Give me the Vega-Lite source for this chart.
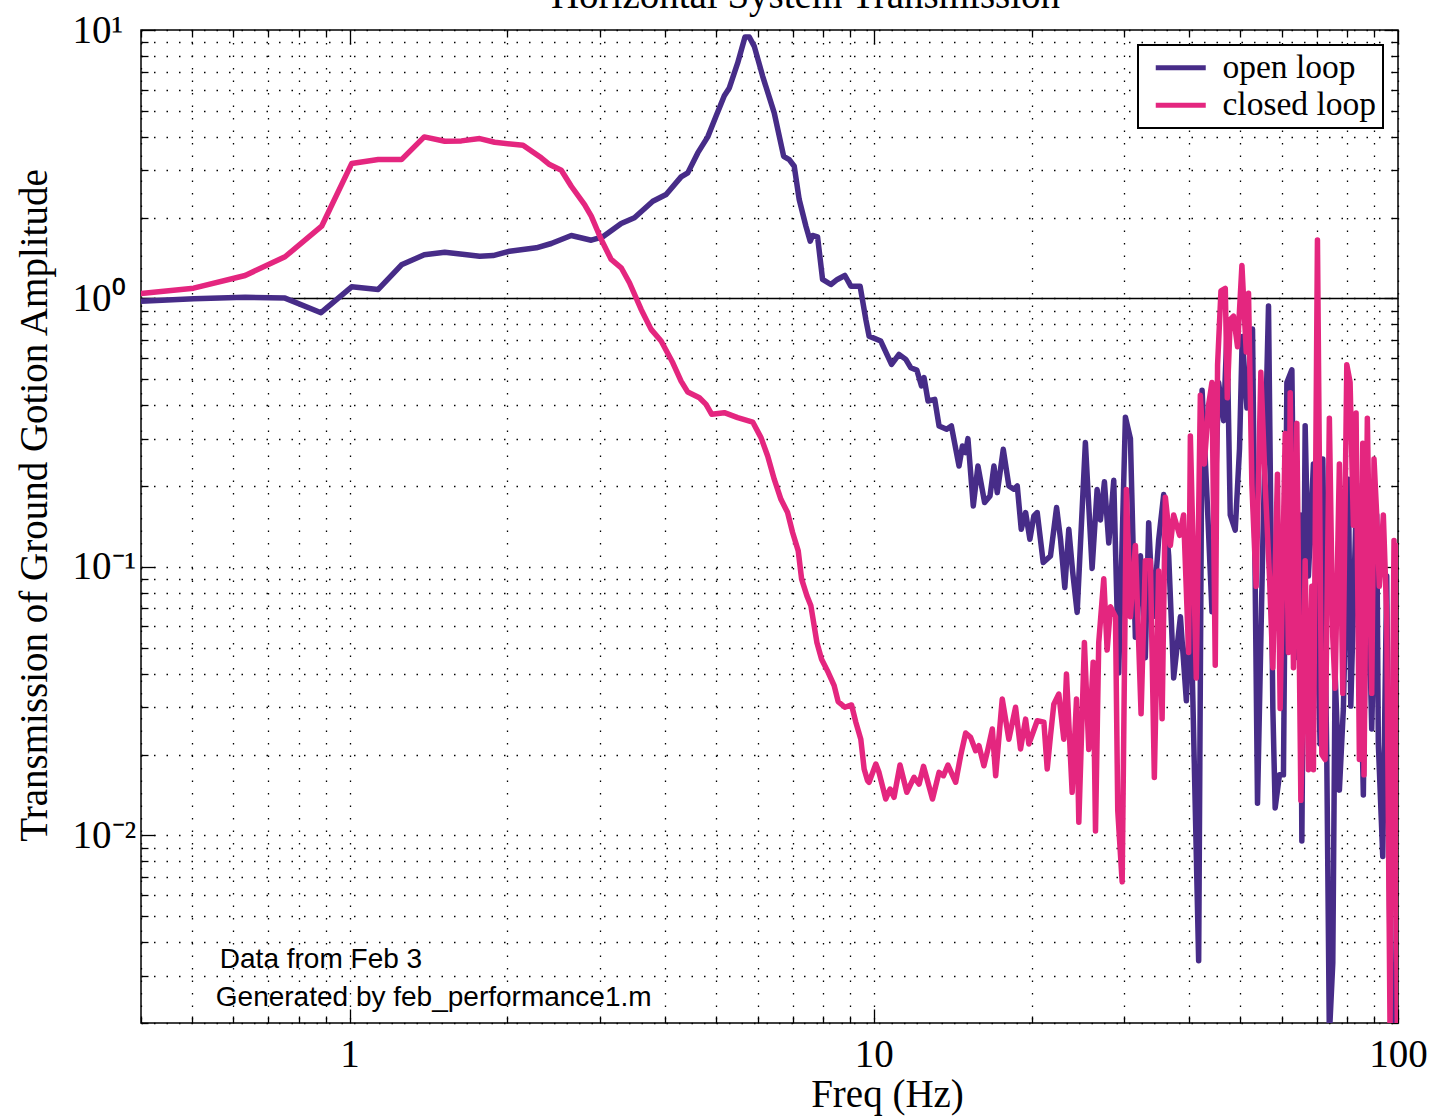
{
  "$schema": "https://vega.github.io/schema/vega-lite/v6.json",
  "width": 1257,
  "height": 993,
  "autosize": {"type": "none"},
  "padding": {"left": 141, "top": 30, "right": 37, "bottom": 95},
  "background": "white",
  "title": {"text": "Horizontal System Transmission", "font": "Liberation Serif", "fontSize": 39, "fontWeight": "normal", "color": "#000", "anchor": "middle", "dx": 36, "offset": -36, "baseline": "alphabetic"},
  "datasets": {
    "open": [
      {"f":0.4,"amp":0.977},{"f":0.504,"amp":0.997},{"f":0.632,"amp":1.011},{"f":0.753,"amp":1.003},{"f":0.882,"amp":0.885},
      {"f":1.009,"amp":1.105},{"f":1.134,"amp":1.08},{"f":1.256,"amp":1.335},{"f":1.388,"amp":1.454},{"f":1.519,"amp":1.487},
      {"f":1.658,"amp":1.458},{"f":1.771,"amp":1.437},{"f":1.878,"amp":1.445},{"f":2.02,"amp":1.5},{"f":2.271,"amp":1.544},
      {"f":2.425,"amp":1.602},{"f":2.648,"amp":1.716},{"f":2.891,"amp":1.648},{"f":3.042,"amp":1.697},{"f":3.297,"amp":1.901},
      {"f":3.494,"amp":1.997},{"f":3.788,"amp":2.302},{"f":4.016,"amp":2.438},{"f":4.289,"amp":2.837},{"f":4.417,"amp":2.936},
      {"f":4.615,"amp":3.485},{"f":4.822,"amp":3.998},{"f":5.0,"amp":4.77},{"f":5.186,"amp":5.694},{"f":5.301,"amp":6.083},
      {"f":5.5,"amp":7.538},{"f":5.679,"amp":9.42},{"f":5.787,"amp":9.42},{"f":5.916,"amp":8.69},{"f":6.138,"amp":6.72},
      {"f":6.457,"amp":4.911},{"f":6.73,"amp":3.385},{"f":6.898,"amp":3.291},{"f":7.05,"amp":3.108},{"f":7.206,"amp":2.336},
      {"f":7.422,"amp":1.858},{"f":7.563,"amp":1.634},{"f":7.642,"amp":1.716},{"f":7.811,"amp":1.697},{"f":7.985,"amp":1.177},
      {"f":8.281,"amp":1.127},{"f":8.52,"amp":1.177},{"f":8.807,"amp":1.218},{"f":9.04,"amp":1.111},{"f":9.417,"amp":1.111},
      {"f":9.656,"amp":0.835},{"f":9.795,"amp":0.724},{"f":10.31,"amp":0.694},{"f":10.81,"amp":0.568},{"f":11.17,"amp":0.619},
      {"f":11.51,"amp":0.593},{"f":11.76,"amp":0.552},{"f":12.08,"amp":0.541},{"f":12.33,"amp":0.472},{"f":12.47,"amp":0.507},
      {"f":12.69,"amp":0.415},{"f":13.07,"amp":0.421},{"f":13.32,"amp":0.335},{"f":13.77,"amp":0.3255},{"f":14.06,"amp":0.335},
      {"f":14.54,"amp":0.2376},{"f":14.76,"amp":0.282},{"f":14.97,"amp":0.2666},{"f":15.12,"amp":0.3005},{"f":15.48,"amp":0.1687},
      {"f":15.8,"amp":0.2376},{"f":16.27,"amp":0.1737},{"f":16.66,"amp":0.1837},{"f":16.95,"amp":0.2376},{"f":17.2,"amp":0.1891},
      {"f":17.66,"amp":0.2742},{"f":18.1,"amp":0.2002},{"f":18.5,"amp":0.1946},{"f":18.78,"amp":0.2002},{"f":19.11,"amp":0.1381},
      {"f":19.48,"amp":0.1594},{"f":19.85,"amp":0.1268},{"f":20.2,"amp":0.1548},{"f":20.5,"amp":0.1594},{"f":21.05,"amp":0.1038},
      {"f":21.73,"amp":0.1099},{"f":22.32,"amp":0.1664},{"f":22.71,"amp":0.1268},{"f":23.14,"amp":0.0838},{"f":23.55,"amp":0.1381},
      {"f":23.96,"amp":0.0953},{"f":24.43,"amp":0.0677},{"f":25.33,"amp":0.2904},{"f":26.09,"amp":0.0987},{"f":26.67,"amp":0.1943},
      {"f":27.06,"amp":0.1495},{"f":27.54,"amp":0.2074},{"f":28.07,"amp":0.1227},{"f":28.69,"amp":0.2101},{"f":29.32,"amp":0.0403},
      {"f":30.2,"amp":0.3613},{"f":30.87,"amp":0.3008},{"f":31.55,"amp":0.0547},{"f":32.26,"amp":0.1101},{"f":32.96,"amp":0.0459},
      {"f":33.45,"amp":0.1462},{"f":34.1,"amp":0.0652},{"f":34.94,"amp":0.1255},{"f":35.73,"amp":0.186},{"f":36.52,"amp":0.1101},
      {"f":37.33,"amp":0.0386},{"f":38.45,"amp":0.0652},{"f":39.47,"amp":0.0317},{"f":40.17,"amp":0.0847},{"f":41.66,"amp":0.00341},
      {"f":42.29,"amp":0.4554},{"f":43.22,"amp":0.1819},{"f":44.17,"amp":0.0681},{"f":45.47,"amp":0.4864},{"f":46.48,"amp":0.3503},
      {"f":47.18,"amp":0.7528},{"f":47.86,"amp":0.1562},{"f":48.92,"amp":0.137},{"f":49.85,"amp":0.2756},{"f":50.45,"amp":0.7211},
      {"f":51.5,"amp":0.3909},{"f":52.78,"amp":0.7694},{"f":53.95,"amp":0.01317},{"f":55.24,"amp":0.1255},{"f":56.62,"amp":0.937},
      {"f":57.71,"amp":0.0297},{"f":58.3,"amp":0.01265},{"f":59.41,"amp":0.0168},{"f":60.46,"amp":0.0168},{"f":61.38,"amp":0.4864},
      {"f":62.74,"amp":0.5425},{"f":63.66,"amp":0.0459},{"f":65.07,"amp":0.1562},{"f":65.55,"amp":0.00952},{"f":66.51,"amp":0.3354},
      {"f":67.47,"amp":0.0924},{"f":68.97,"amp":0.2415},{"f":71.02,"amp":0.0219},{"f":71.87,"amp":0.2523},{"f":73.14,"amp":0.01916},
      {"f":73.97,"amp":0.0018},{"f":75.09,"amp":0.00334},{"f":75.86,"amp":0.0403},{"f":77.3,"amp":0.01474},{"f":78.67,"amp":0.0297},
      {"f":80.41,"amp":0.2121},{"f":81.27,"amp":0.0303},{"f":83.43,"amp":0.203},{"f":85.88,"amp":0.01414},{"f":87.17,"amp":0.1562},
      {"f":89.1,"amp":0.0249},{"f":91.07,"amp":0.1562},{"f":91.73,"amp":0.0219},{"f":93.52,"amp":0.00835},{"f":95.17,"amp":0.0924},
      {"f":96.56,"amp":0.00349},{"f":98.7,"amp":0.0019},{"f":100,"amp":0.0165}
    ],
    "closed": [
      {"f":0.4,"amp":1.044},{"f":0.504,"amp":1.092},{"f":0.632,"amp":1.218},{"f":0.753,"amp":1.43},{"f":0.8845,"amp":1.858},
      {"f":1.009,"amp":3.18},{"f":1.134,"amp":3.291},{"f":1.256,"amp":3.291},{"f":1.388,"amp":3.998},{"f":1.519,"amp":3.85},
      {"f":1.634,"amp":3.863},{"f":1.771,"amp":3.94},{"f":1.891,"amp":3.817},{"f":2.142,"amp":3.72},{"f":2.321,"amp":3.34},
      {"f":2.407,"amp":3.153},{"f":2.534,"amp":3.003},{"f":2.648,"amp":2.618},{"f":2.807,"amp":2.238},{"f":2.891,"amp":2.025},
      {"f":3.02,"amp":1.658},{"f":3.155,"amp":1.397},{"f":3.297,"amp":1.301},{"f":3.419,"amp":1.144},{"f":3.599,"amp":0.91},
      {"f":3.76,"amp":0.767},{"f":3.929,"amp":0.694},{"f":4.136,"amp":0.576},{"f":4.289,"amp":0.4923},{"f":4.417,"amp":0.4479},
      {"f":4.648,"amp":0.4269},{"f":4.786,"amp":0.4032},{"f":4.908,"amp":0.3701},{"f":5.186,"amp":0.3755},{"f":5.5,"amp":0.3597},
      {"f":5.875,"amp":0.3464},{"f":6.093,"amp":0.3031},{"f":6.274,"amp":0.2589},{"f":6.457,"amp":0.2121},{"f":6.65,"amp":0.1786},
      {"f":6.848,"amp":0.1594},{"f":7.0,"amp":0.1343},{"f":7.175,"amp":0.1147},{"f":7.283,"amp":0.09},{"f":7.455,"amp":0.078},
      {"f":7.586,"amp":0.0716},{"f":7.788,"amp":0.0523},{"f":7.95,"amp":0.0453},{"f":8.184,"amp":0.0405},{"f":8.402,"amp":0.0361},
      {"f":8.551,"amp":0.0315},{"f":8.807,"amp":0.03},{"f":9.069,"amp":0.0306},{"f":9.241,"amp":0.0264},{"f":9.445,"amp":0.0228},
      {"f":9.584,"amp":0.01767},{"f":9.727,"amp":0.016},{"f":9.795,"amp":0.01577},{"f":10.09,"amp":0.01843},{"f":10.23,"amp":0.01717},
      {"f":10.54,"amp":0.01366},{"f":10.74,"amp":0.01488},{"f":10.93,"amp":0.01386},{"f":11.22,"amp":0.01828},{"f":11.56,"amp":0.01447},
      {"f":11.93,"amp":0.01645},{"f":12.2,"amp":0.01553},{"f":12.44,"amp":0.01808},{"f":12.94,"amp":0.01366},{"f":13.32,"amp":0.01717},
      {"f":13.58,"amp":0.01668},{"f":13.85,"amp":0.01828},{"f":14.33,"amp":0.01577},{"f":14.65,"amp":0.0199},{"f":14.97,"amp":0.02405},
      {"f":15.3,"amp":0.02318},{"f":15.64,"amp":0.02066},{"f":15.87,"amp":0.02157},{"f":16.22,"amp":0.01817},{"f":16.51,"amp":0.02097},
      {"f":16.83,"amp":0.02489},{"f":17.08,"amp":0.01668},{"f":17.58,"amp":0.0322},{"f":18.1,"amp":0.0228},{"f":18.64,"amp":0.03},
      {"f":19.05,"amp":0.02097},{"f":19.48,"amp":0.0271},{"f":19.76,"amp":0.02189},{"f":20.5,"amp":0.02673},{"f":21.11,"amp":0.0264},
      {"f":21.42,"amp":0.01767},{"f":21.73,"amp":0.0235},{"f":22.05,"amp":0.0308},{"f":22.54,"amp":0.0336},{"f":23.04,"amp":0.0228},
      {"f":23.31,"amp":0.0399},{"f":23.9,"amp":0.01447},{"f":24.36,"amp":0.0322},{"f":24.61,"amp":0.01119},{"f":25.22,"amp":0.0523},
      {"f":25.71,"amp":0.0209},{"f":26.21,"amp":0.0441},{"f":26.48,"amp":0.01039},{"f":26.86,"amp":0.0523},{"f":27.46,"amp":0.0904},
      {"f":27.87,"amp":0.049},{"f":28.28,"amp":0.0711},{"f":28.91,"amp":0.0652},{"f":29.2,"amp":0.01238},{"f":29.77,"amp":0.00671},
      {"f":30.33,"amp":0.1943},{"f":30.87,"amp":0.0652},{"f":31.55,"amp":0.1202},{"f":32.35,"amp":0.0284},{"f":32.96,"amp":0.1054},
      {"f":33.7,"amp":0.1054},{"f":34.29,"amp":0.01643},{"f":34.94,"amp":0.0965},{"f":35.48,"amp":0.0272},{"f":35.99,"amp":0.1819},
      {"f":36.79,"amp":0.1202},{"f":37.33,"amp":0.1562},{"f":38.32,"amp":0.1311},{"f":38.99,"amp":0.1562},{"f":39.86,"amp":0.048},
      {"f":40.17,"amp":0.3073},{"f":41.23,"amp":0.0386},{"f":41.97,"amp":0.4358},{"f":42.71,"amp":0.2415},{"f":43.52,"amp":0.4009},
      {"f":44.17,"amp":0.4864},{"f":44.81,"amp":0.043},{"f":45.27,"amp":0.566},{"f":45.95,"amp":1.068},{"f":46.83,"amp":1.091},
      {"f":47.24,"amp":0.4266},{"f":47.86,"amp":0.835},{"f":48.56,"amp":0.8584},{"f":49.42,"amp":0.6605},{"f":50.38,"amp":1.328},
      {"f":51.34,"amp":0.6323},{"f":51.86,"amp":1.045},{"f":52.63,"amp":0.203},{"f":53.63,"amp":0.0847},{"f":54.75,"amp":0.5309},
      {"f":55.8,"amp":0.203},{"f":56.86,"amp":0.0924},{"f":57.71,"amp":0.0421},{"f":58.89,"amp":0.2215},{"f":59.59,"amp":0.0297},
      {"f":60.93,"amp":0.3143},{"f":61.8,"amp":0.048},{"f":62.28,"amp":0.4457},{"f":63.18,"amp":0.0421},{"f":64.12,"amp":0.3425},
      {"f":65.27,"amp":0.0135},{"f":66.01,"amp":0.0369},{"f":66.51,"amp":0.1054},{"f":67.47,"amp":0.01756},{"f":68.49,"amp":0.0847},
      {"f":68.97,"amp":0.01756},{"f":70.2,"amp":1.652},{"f":71.57,"amp":0.02001},{"f":72.61,"amp":0.01916},{"f":73.97,"amp":0.3582},
      {"f":75.09,"amp":0.0547},{"f":75.86,"amp":0.0353},{"f":77.3,"amp":0.2415},{"f":78.47,"amp":0.0338},{"f":79.86,"amp":0.566},
      {"f":81.02,"amp":0.4869},{"f":82.21,"amp":0.1429},{"f":83.18,"amp":0.3742},{"f":84.4,"amp":0.01916},{"f":85.66,"amp":0.2886},
      {"f":86.13,"amp":0.0168},{"f":87.4,"amp":0.3582},{"f":89.1,"amp":0.0338},{"f":90.0,"amp":0.2523},{"f":91.07,"amp":0.1562},
      {"f":92.13,"amp":0.0847},{"f":93.76,"amp":0.1562},{"f":95.17,"amp":0.0652},{"f":96.56,"amp":0.0019},{"f":98.26,"amp":0.1255},
      {"f":99.7,"amp":0.0019},{"f":100,"amp":0.12}
    ],
    "notes": [
      {"f":0.5655,"amp":0.003209,"note":"Data from Feb 3"},
      {"f":0.5556,"amp":0.002318,"note":"Generated by feb_performance1.m"}
    ]
  },
  "resolve": {"axis": {"x": "independent", "y": "independent"}},
  "layer": [
    {
      "data": {"values": [{}]},
      "mark": {"type": "rule", "color": "#000", "strokeWidth": 1.5},
      "encoding": {
        "y": {"datum": 1, "type": "quantitative", "scale": {"type": "log", "domain": [0.002, 10], "nice": false}, "axis": null}
      }
    },
    {
      "data": {"name": "open"},
      "mark": {"type": "line", "strokeWidth": 5.5, "clip": true, "strokeJoin": "round", "strokeCap": "round"},
      "encoding": {
        "x": {"field": "f", "type": "quantitative", "scale": {"type": "log", "domain": [0.4, 100], "nice": false}, "axis": null},
        "y": {"field": "amp", "type": "quantitative", "scale": {"type": "log", "domain": [0.002, 10], "nice": false}, "axis": null},
        "color": {"datum": "open loop", "type": "nominal", "scale": {"domain": ["open loop", "closed loop"], "range": ["#472c88", "#e4267f"]},
          "legend": {"title": null, "labelExpr": "datum.label + '\u00a0'", "encode": {"legend": {"update": {"strokeWidth": {"value": 2}}}}}}
      }
    },
    {
      "data": {"name": "closed"},
      "mark": {"type": "line", "strokeWidth": 5.5, "clip": true, "strokeJoin": "round", "strokeCap": "round"},
      "encoding": {
        "x": {"field": "f", "type": "quantitative", "scale": {"type": "log", "domain": [0.4, 100], "nice": false},
          "axis": {
            "orient": "bottom",
            "values": [0.4,0.5,0.6,0.7,0.8,0.9,1,2,3,4,5,6,7,8,9,10,20,30,40,50,60,70,80,90,100],
            "grid": true, "gridDash": [1.5, 11], "gridColor": "#000", "gridWidth": 1.3, "gridOpacity": 1,
            "domain": false,
            "ticks": true, "tickColor": "#000", "tickWidth": 1.3,
            "tickSize": {"condition": {"test": "datum.value==1||datum.value==10||datum.value==100", "value": -14}, "value": -7},
            "labelExpr": "datum.value==1?'1':datum.value==10?'10':datum.value==100?'100':''",
            "labelFont": "Liberation Serif", "labelFontSize": 39, "labelColor": "#000",
            "labelPadding": 26, "labelFlush": false, "labelOverlap": false,
            "title": "Freq (Hz)", "titleFont": "Liberation Serif", "titleFontSize": 39, "titleFontWeight": "normal", "titleColor": "#000",
            "titleX": 746, "titleY": 83, "titleBaseline": "alphabetic", "titleAlign": "center"
          }
        },
        "y": {"field": "amp", "type": "quantitative", "scale": {"type": "log", "domain": [0.002, 10], "nice": false},
          "axis": {
            "orient": "left",
            "values": [0.002,0.003,0.004,0.005,0.006,0.007,0.008,0.009,0.01,0.02,0.03,0.04,0.05,0.06,0.07,0.08,0.09,0.1,0.2,0.3,0.4,0.5,0.6,0.7,0.8,0.9,1,2,3,4,5,6,7,8,9,10],
            "grid": true, "gridDash": [1.5, 11], "gridColor": "#000", "gridWidth": 1.3, "gridOpacity": 1,
            "domain": false,
            "ticks": true, "tickColor": "#000", "tickWidth": 1.3,
            "tickSize": {"condition": {"test": "datum.value==1||datum.value==10||datum.value==0.1||datum.value==0.01", "value": -14}, "value": -7},
            "labelExpr": "datum.value==10?'10¹':datum.value==1?'10⁰':datum.value==0.1?'10⁻¹':datum.value==0.01?'10⁻²':''",
            "labelFont": "Liberation Serif", "labelFontSize": 39, "labelColor": "#000",
            "labelAlign": "left", "labelBaseline": "middle", "labelPadding": 83, "labelFlush": false, "labelOverlap": false,
            "title": "Transmission of Ground Gotion Amplitude", "titleFont": "Liberation Serif", "titleFontSize": 39, "titleFontWeight": "normal", "titleColor": "#000",
            "titleX": -95, "titleY": 475, "titleAngle": -90, "titleBaseline": "alphabetic", "titleAlign": "center"
          }
        },
        "color": {"datum": "closed loop", "type": "nominal", "scale": {"domain": ["open loop", "closed loop"], "range": ["#472c88", "#e4267f"]},
          "legend": {"title": null, "labelExpr": "datum.label + '\u00a0'", "encode": {"legend": {"update": {"strokeWidth": {"value": 2}}}}}}
      }
    },
    {
      "data": {"name": "notes"},
      "mark": {"type": "text", "font": "Liberation Sans", "fontSize": 28, "align": "left", "baseline": "alphabetic", "color": "#000"},
      "encoding": {
        "x": {"field": "f", "type": "quantitative", "scale": {"type": "log", "domain": [0.4, 100], "nice": false},
          "axis": {
            "orient": "top",
            "values": [0.4,0.5,0.6,0.7,0.8,0.9,1,2,3,4,5,6,7,8,9,10,20,30,40,50,60,70,80,90,100],
            "grid": false, "domain": false, "labels": false, "title": null,
            "ticks": true, "tickColor": "#000", "tickWidth": 1.3,
            "tickSize": {"condition": {"test": "datum.value==1||datum.value==10||datum.value==100", "value": -14}, "value": -7}
          }
        },
        "y": {"field": "amp", "type": "quantitative", "scale": {"type": "log", "domain": [0.002, 10], "nice": false},
          "axis": {
            "orient": "right",
            "values": [0.002,0.003,0.004,0.005,0.006,0.007,0.008,0.009,0.01,0.02,0.03,0.04,0.05,0.06,0.07,0.08,0.09,0.1,0.2,0.3,0.4,0.5,0.6,0.7,0.8,0.9,1,2,3,4,5,6,7,8,9,10],
            "grid": false, "domain": false, "labels": false, "title": null,
            "ticks": true, "tickColor": "#000", "tickWidth": 1.3,
            "tickSize": {"condition": {"test": "datum.value==1||datum.value==10||datum.value==0.1||datum.value==0.01", "value": -14}, "value": -7}
          }
        },
        "text": {"field": "note", "type": "nominal"}
      }
    }
  ],
  "config": {
    "view": {"stroke": "#000", "strokeWidth": 1.5},
    "font": "Liberation Serif",
    "legend": {
      "orient": "top-right", "offset": 15, "title": null,
      "strokeColor": "#000", "fillColor": "#fff", "padding": 6,
      "symbolType": "M-2,0H2", "symbolStrokeWidth": 5, "symbolSize": 625, "symbolOffset": 20,
      "labelFont": "Liberation Serif", "labelFontSize": 33.5, "labelColor": "#000", "labelOffset": 25, "labelLimit": 500,
      "rowPadding": 2.5
    }
  }
}
